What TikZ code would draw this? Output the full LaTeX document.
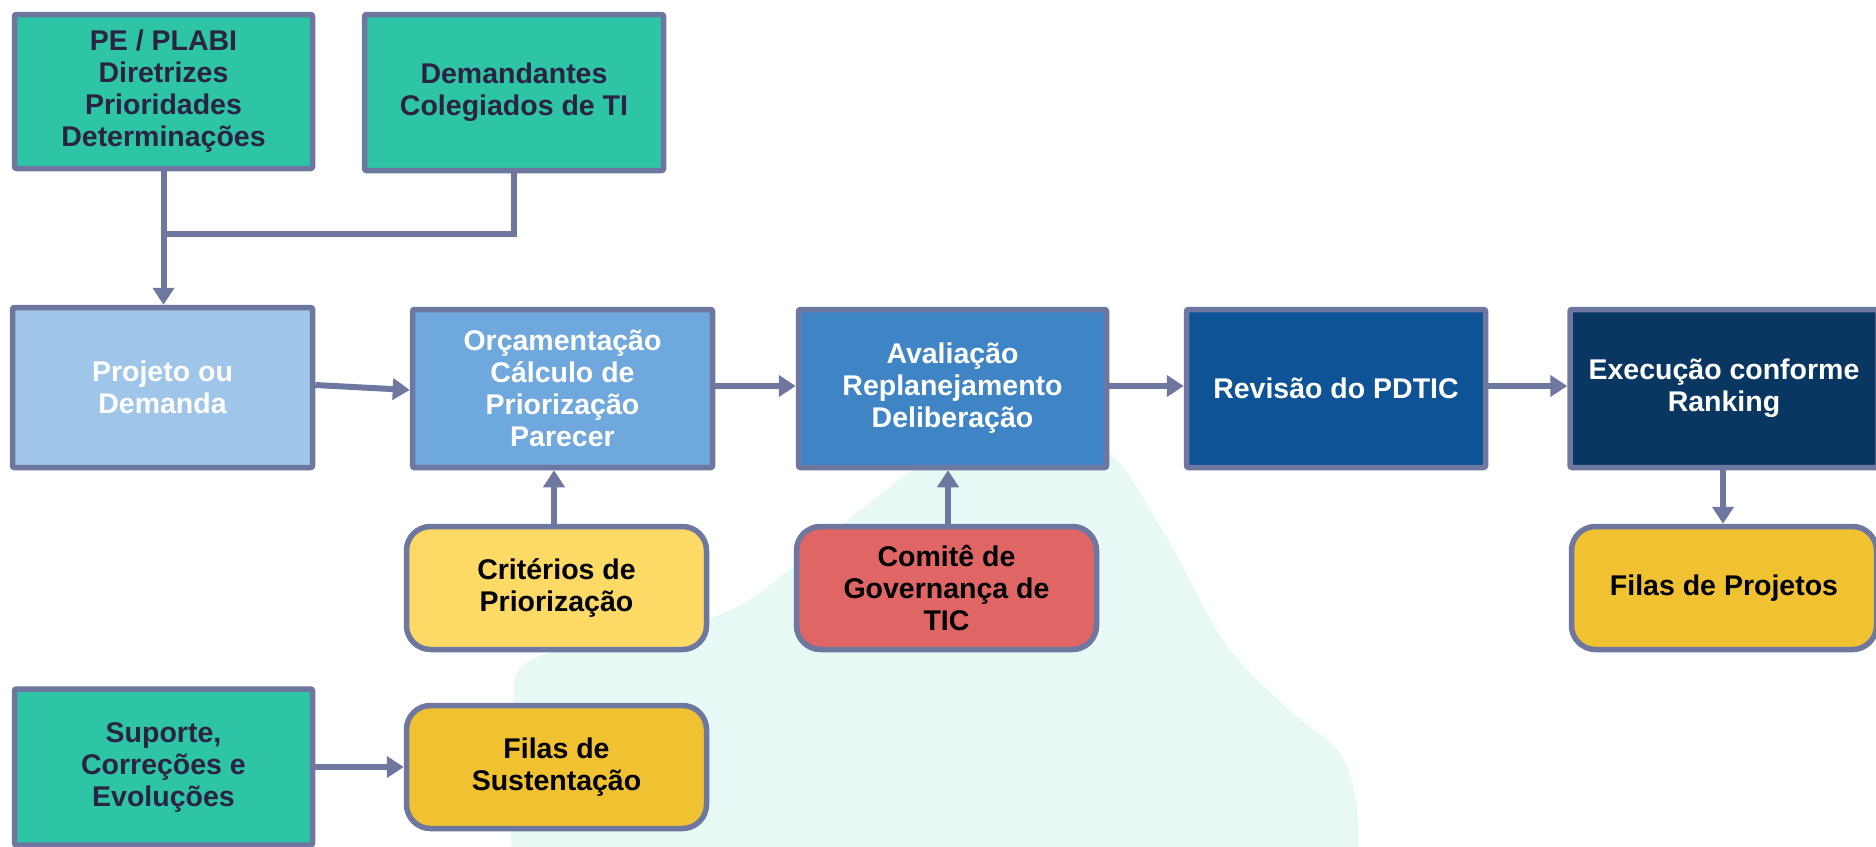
\documentclass[tikz,border=0pt]{standalone}
\usepackage{fontspec}
\setmainfont{Liberation Sans}
\usetikzlibrary{arrows.meta}
\definecolor{cgreen}{HTML}{2EC4A6}
\definecolor{cdark}{HTML}{2A2342}
\definecolor{cborder}{HTML}{6D77A0}
\definecolor{cproj}{HTML}{9FC5E8}
\definecolor{corc}{HTML}{6FA8DC}
\definecolor{caval}{HTML}{3F85C6}
\definecolor{crev}{HTML}{0E5396}
\definecolor{cexec}{HTML}{0A3762}
\definecolor{ccrit}{HTML}{FDD966}
\definecolor{ccom}{HTML}{E06666}
\definecolor{cfila}{HTML}{F0C232}
\definecolor{cblob}{HTML}{E8F8F4}
\tikzset{
  box/.style={draw=cborder, line width=5.5pt, rounded corners=2pt, align=center,
    font=\fontsize{28.5}{32}\selectfont\bfseries, inner sep=0pt},
  gbox/.style={box, fill=cgreen, text=cdark},
  bbox/.style={box, text=white},
  rbox/.style={box, rounded corners=24pt, text=black},
  arr/.style={draw=cborder, line width=6pt, -{Triangle[length=17pt,width=21pt]}},
  ln/.style={draw=cborder, line width=6pt},
}
\begin{document}
\begin{tikzpicture}[x=1pt,y=-1pt]
\useasboundingbox (0,0) rectangle (1876,846);
% background blob
\fill[cblob] plot[smooth, tension=0.55] coordinates {
  (512,850) (507,770) (512,705) (537,657) (713,617) (793,567) (873,500) (960,445)
  (1095,445) (1158,523) (1223,640) (1286,707) (1339,752) (1356,800) (1358,850)}
  -- (1358,900) -- (512,900) -- cycle;
% nodes
\node[gbox, minimum width=298pt, minimum height=154pt] (pe) at (163.5,91.5)
  {PE / PLABI\\Diretrizes\\Prioridades\\Determinações};
\node[gbox, minimum width=299pt, minimum height=156pt] (dem) at (514,92.5)
  {Demandantes\\Colegiados de TI};
\node[bbox, fill=cproj, minimum width=300pt, minimum height=160pt] (proj) at (162.5,387.5)
  {Projeto ou\\Demanda};
\node[bbox, fill=corc, minimum width=300pt, minimum height=158pt] (orc) at (562.5,388.5)
  {Orçamentação\\Cálculo de\\Priorização\\Parecer};
\node[bbox, fill=caval, minimum width=308pt, minimum height=158pt] (aval) at (952.5,388.5)
  {Avaliação\\Replanejamento\\Deliberação};
\node[bbox, fill=crev, minimum width=299pt, minimum height=158pt] (rev) at (1336,388.5)
  {Revisão do PDTIC};
\node[bbox, fill=cexec, minimum width=308pt, minimum height=158pt] (exec) at (1724,388.5)
  {Execução conforme\\Ranking};
\node[rbox, fill=ccrit, minimum width=300pt, minimum height=123pt] (crit) at (556.5,588)
  {Critérios de\\Priorização};
\node[rbox, fill=ccom, minimum width=300pt, minimum height=123pt] (com) at (946.5,588)
  {Comitê de\\Governança de\\TIC};
\node[rbox, fill=cfila, minimum width=305pt, minimum height=123pt] (filp) at (1724,588)
  {Filas de Projetos};
\node[gbox, minimum width=298pt, minimum height=156pt] (sup) at (163.5,767)
  {Suporte,\\Correções e\\Evoluções};
\node[rbox, fill=cfila, minimum width=300pt, minimum height=123pt] (sust) at (556.5,767)
  {Filas de\\Sustentação};
% connectors
\coordinate (j) at (163.5,234);
\draw[ln] (dem.south) |- (j);
\draw[arr] (pe.south) -- (pe.south |- proj.north);
\draw[arr] ([yshift=2.5pt]proj.east) -- ([yshift=-1.5pt]orc.west);
\draw[arr] ([yshift=2.5pt]orc.east) -- ([yshift=2.5pt]aval.west);
\draw[arr] ([yshift=2.5pt]aval.east) -- ([yshift=2.5pt]rev.west);
\draw[arr] ([yshift=2.5pt]rev.east) -- ([yshift=2.5pt]exec.west);
\draw[arr] ([xshift=-2.5pt]crit.north) -- ([xshift=-2.5pt]crit.north |- orc.south);
\draw[arr] ([xshift=1.5pt]com.north) -- ([xshift=1.5pt]com.north |- aval.south);
\draw[arr] ([xshift=-1pt]exec.south) -- ([xshift=-1pt]exec.south |- filp.north);
\draw[arr] (sup.east) -- (sup.east -| sust.west);
\end{tikzpicture}
\end{document}
